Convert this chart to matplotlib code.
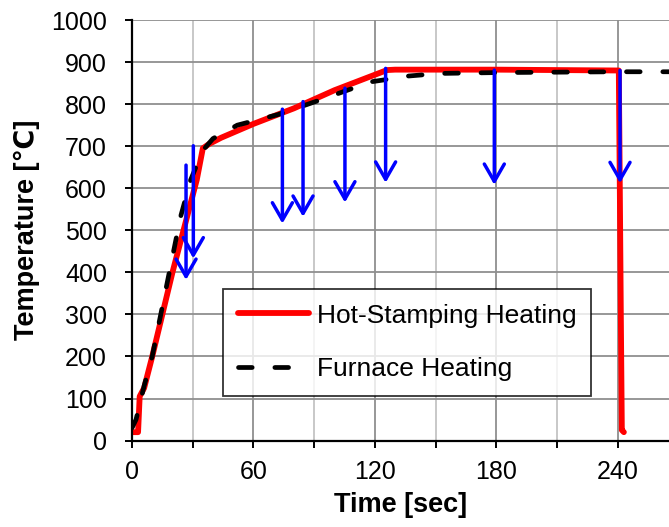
import matplotlib
matplotlib.use('Agg')
import matplotlib.pyplot as plt
from matplotlib.ticker import MultipleLocator

plt.rcParams['font.family'] = ['Liberation Sans', 'DejaVu Sans']

# Hot-stamping heating (red)
hot_t = [0, 3, 3.8, 6, 10, 20, 32, 35, 38, 44, 60, 80, 100, 126, 130, 180, 240.5, 241, 241.5, 242, 243]
hot_T = [20, 20, 105, 125, 200, 400, 620, 695, 705, 720, 753, 790, 833, 881, 882, 882, 880, 600, 300, 25, 20]

# Furnace heating (black dashed)
furnace_t = [0, 2, 4, 6, 10, 17, 24, 29, 35, 40, 52, 72, 93, 118, 125, 132, 152, 180, 240, 270]
furnace_T = [30, 50, 90, 130, 200, 366, 532, 620, 690, 718, 750, 775, 810, 853, 858, 865, 873, 875, 877, 877]

# Blue cooling arrows: time, start temp, end temp
arrow_t = [26.7, 30.3, 74.3, 84.5, 105.2, 125.3, 179, 241.1]
arrow_top = [655, 701, 788, 806, 838, 885, 881, 880]
arrow_tip = [382, 433, 516, 532, 566, 613, 608, 612]

fig = plt.figure(figsize=(6.69, 5.27), dpi=100)
ax = fig.add_axes([0.1973, 0.164, 0.8027, 0.798])

ax.plot(hot_t, hot_T, color='red', lw=4.2, solid_capstyle='round',
        label='Hot-Stamping Heating', zorder=3)
ax.plot(furnace_t, furnace_T, color='black', lw=3.4, dashes=(2.9, 4.8),
        dash_capstyle='round', label='Furnace Heating', zorder=4)

for t, top, tip in zip(arrow_t, arrow_top, arrow_tip):
    ax.annotate('', xy=(t, tip), xytext=(t, top),
                arrowprops=dict(arrowstyle='->,head_length=1.25,head_width=0.72',
                                color='blue', lw=2.5, shrinkA=0, shrinkB=0),
                zorder=5)

ax.set_xlim(0, 265.3)
ax.set_ylim(0, 1000)
ax.xaxis.set_major_locator(MultipleLocator(60))
ax.xaxis.set_minor_locator(MultipleLocator(30))
ax.yaxis.set_major_locator(MultipleLocator(100))

ax.grid(which='major', color='#8f8f8f', lw=1.3)
ax.grid(which='minor', axis='x', color='#c4c4c4', lw=1.3)
ax.set_axisbelow(True)

for s in ['top', 'right']:
    ax.spines[s].set_visible(False)
for s in ['left', 'bottom']:
    ax.spines[s].set_linewidth(1.6)
    ax.spines[s].set_zorder(6)

ax.tick_params(axis='both', which='both', direction='out', width=1.4,
               labelsize=18, length=5)
ax.tick_params(axis='y', pad=13)
ax.tick_params(axis='x', pad=9)

ax.set_xlabel('Time [sec]', fontsize=19.5, fontweight='bold', labelpad=6)
ax.set_ylabel('Temperature [℃]', fontsize=19.5, fontweight='bold', labelpad=8)

leg = ax.legend(loc='upper left', bbox_to_anchor=(0.1695, 0.36), fontsize=19,
                frameon=True, fancybox=False, edgecolor='black',
                handlelength=2.7, handletextpad=0.3, labelspacing=1.12,
                borderpad=0.55, borderaxespad=0)
leg.get_frame().set_linewidth(1.3)
leg.set_zorder(7)

fig.savefig('out.png', dpi=100)
